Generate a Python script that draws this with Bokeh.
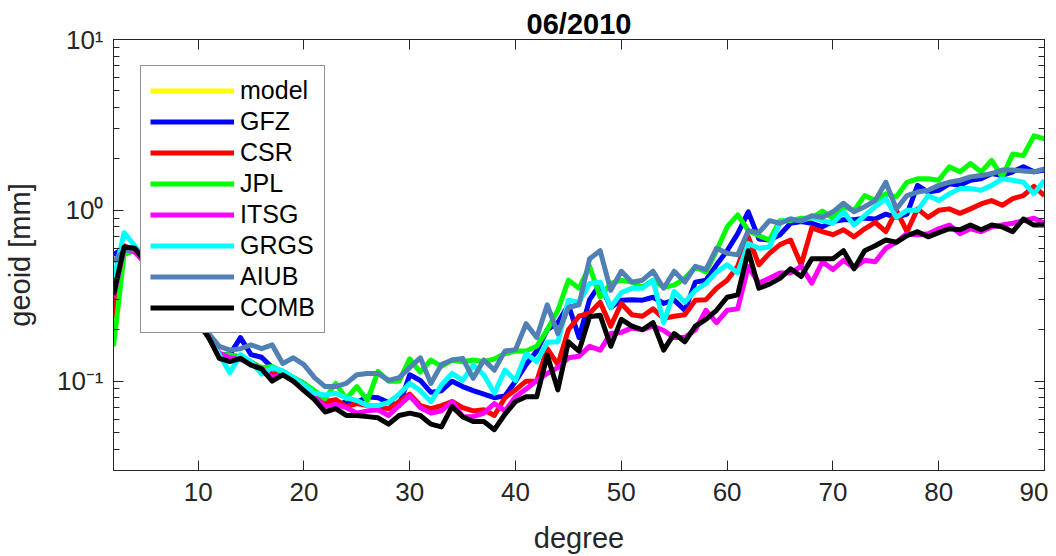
from bokeh.plotting import figure
from bokeh.models import LinearAxis, LogAxis, FixedTicker, LogTicker, Range1d, Legend, LegendItem, ColumnDataSource
from bokeh.embed import file_html
from bokeh.resources import INLINE

degree = list(range(2, 91))

gfz = [0.55, 0.6, 0.58, 0.5, 0.43, 0.37, 0.31, 0.27, 0.22, 0.18,
       0.143, 0.143, 0.18, 0.143, 0.138, 0.12, 0.114, 0.105, 0.097, 0.085,
       0.076, 0.072, 0.076, 0.075, 0.081, 0.08, 0.075, 0.072, 0.109, 0.101,
       0.086, 0.088, 0.1, 0.093, 0.088, 0.084, 0.08, 0.082, 0.1, 0.125,
       0.15, 0.2, 0.22, 0.28, 0.18, 0.3, 0.37, 0.27, 0.298, 0.3,
       0.298, 0.31, 0.285, 0.298, 0.26, 0.38, 0.39, 0.48, 0.58, 0.73,
       0.98, 0.68, 0.67, 0.72, 0.84, 0.86, 0.84, 0.8, 0.86, 0.88,
       0.88, 0.9, 0.89, 0.95, 0.91, 0.95, 1.4, 1.28, 1.31, 1.43,
       1.4, 1.5, 1.53, 1.64, 1.6, 1.68, 1.8, 1.68, 1.72]

csr = [0.235, 0.62, 0.58, 0.5, 0.42, 0.36, 0.3, 0.26, 0.22, 0.18,
       0.143, 0.14, 0.14, 0.13, 0.118, 0.11, 0.112, 0.1, 0.093, 0.083,
       0.076, 0.078, 0.071, 0.074, 0.072, 0.071, 0.069, 0.076, 0.084, 0.072,
       0.069, 0.072, 0.076, 0.07, 0.067, 0.068, 0.063, 0.08, 0.089, 0.1,
       0.1, 0.155, 0.125, 0.2, 0.24, 0.25, 0.29, 0.21, 0.285, 0.245,
       0.24, 0.265, 0.233, 0.24, 0.245, 0.298, 0.3, 0.35, 0.39, 0.47,
       0.7, 0.48, 0.56, 0.63, 0.67, 0.48, 0.79, 0.75, 0.72, 0.77,
       0.7, 0.78, 0.85, 0.75, 1.0, 0.75, 1.02, 0.91, 1.0, 1.02,
       0.96, 1.02, 1.09, 1.14, 1.07, 1.17, 1.22, 1.38, 1.22]

jpl = [0.16, 0.55, 0.58, 0.5, 0.43, 0.37, 0.31, 0.26, 0.22, 0.18,
       0.143, 0.143, 0.138, 0.129, 0.12, 0.122, 0.112, 0.105, 0.097, 0.088,
       0.079, 0.097, 0.079, 0.093, 0.077, 0.114, 0.1, 0.1, 0.135, 0.113,
       0.133, 0.122, 0.133, 0.13, 0.133, 0.13, 0.135, 0.145, 0.15, 0.15,
       0.16, 0.2, 0.26, 0.39, 0.35, 0.47, 0.31, 0.373, 0.39, 0.38,
       0.355, 0.39, 0.355, 0.365, 0.4, 0.466, 0.435, 0.58, 0.8, 0.94,
       0.76, 0.71, 0.67, 0.87, 0.87, 0.9, 0.9, 0.99, 0.9, 1.05,
       1.0, 1.22, 1.14, 1.25, 1.2, 1.46, 1.53, 1.53, 1.5, 1.8,
       1.68, 1.88, 1.68, 1.96, 1.57, 2.14, 2.09, 2.73, 2.62]

itsg = [0.31, 0.6, 0.57, 0.49, 0.42, 0.36, 0.3, 0.26, 0.22, 0.18,
        0.146, 0.137, 0.134, 0.127, 0.118, 0.105, 0.11, 0.1, 0.09, 0.081,
        0.071, 0.073, 0.07, 0.065, 0.067, 0.068, 0.063, 0.072, 0.082, 0.07,
        0.065, 0.067, 0.076, 0.062, 0.062, 0.065, 0.074, 0.067, 0.081, 0.09,
        0.101, 0.111, 0.12, 0.137, 0.14, 0.16, 0.152, 0.19, 0.193, 0.205,
        0.2, 0.21, 0.198, 0.18, 0.18, 0.2, 0.26, 0.22, 0.26, 0.265,
        0.47, 0.375, 0.4, 0.43, 0.43, 0.47, 0.375, 0.5, 0.45, 0.51,
        0.46, 0.51, 0.5, 0.6, 0.65, 0.73, 0.72, 0.73, 0.78, 0.82,
        0.73, 0.78, 0.75, 0.8, 0.82, 0.84, 0.87, 0.9, 0.84]

grgs = [0.39, 0.74, 0.62, 0.52, 0.44, 0.37, 0.31, 0.26, 0.22, 0.18,
        0.143, 0.112, 0.143, 0.13, 0.11, 0.12, 0.115, 0.105, 0.095, 0.085,
        0.083, 0.085, 0.08, 0.077, 0.072, 0.072, 0.075, 0.084, 0.097, 0.088,
        0.076, 0.095, 0.111, 0.101, 0.124, 0.109, 0.085, 0.116, 0.101, 0.145,
        0.13, 0.169, 0.17, 0.298, 0.29, 0.373, 0.38, 0.27, 0.33, 0.35,
        0.35, 0.39, 0.22, 0.335, 0.29, 0.34, 0.373, 0.435, 0.48, 0.43,
        0.64, 0.6, 0.61, 0.85, 0.89, 0.87, 0.91, 0.87, 0.84, 0.98,
        0.82, 0.93, 1.05, 1.17, 0.91, 1.0, 1.0, 1.22, 1.14, 1.25,
        1.34, 1.34, 1.31, 1.4, 1.53, 1.5, 1.46, 1.25, 1.5]

aiub = [0.5, 0.58, 0.6, 0.52, 0.44, 0.38, 0.32, 0.27, 0.23, 0.19,
        0.16, 0.152, 0.155, 0.163, 0.155, 0.163, 0.127, 0.137, 0.125, 0.105,
        0.093, 0.093, 0.097, 0.109, 0.111, 0.111, 0.101, 0.105, 0.12, 0.137,
        0.097, 0.125, 0.133, 0.136, 0.104, 0.133, 0.116, 0.15, 0.153, 0.217,
        0.18, 0.28, 0.19, 0.27, 0.28, 0.52, 0.58, 0.34, 0.44, 0.38,
        0.39, 0.44, 0.35, 0.44, 0.38, 0.47, 0.45, 0.6, 0.56, 0.55,
        0.76, 0.74, 0.87, 0.84, 0.89, 0.87, 0.93, 0.91, 0.98, 1.1,
        0.98, 1.05, 1.14, 1.46, 1.02, 1.22, 1.28, 1.31, 1.4, 1.46,
        1.5, 1.57, 1.6, 1.64, 1.72, 1.72, 1.7, 1.68, 1.75]

comb = [0.32, 0.61, 0.6, 0.5, 0.42, 0.36, 0.3, 0.26, 0.22, 0.18,
        0.136, 0.13, 0.136, 0.124, 0.118, 0.1, 0.109, 0.1, 0.088, 0.078,
        0.066, 0.069, 0.063, 0.063, 0.062, 0.061, 0.056, 0.063, 0.065, 0.063,
        0.056, 0.054, 0.071, 0.062, 0.058, 0.058, 0.052, 0.064, 0.076, 0.081,
        0.081, 0.142, 0.089, 0.17, 0.15, 0.238, 0.243, 0.16, 0.23, 0.21,
        0.2, 0.22, 0.152, 0.19, 0.17, 0.21, 0.23, 0.26, 0.31, 0.32,
        0.58, 0.35, 0.37, 0.4, 0.455, 0.41, 0.52, 0.52, 0.52, 0.58,
        0.455, 0.58, 0.62, 0.67, 0.65, 0.71, 0.75, 0.7, 0.74, 0.78,
        0.77, 0.82, 0.77, 0.82, 0.8, 0.75, 0.89, 0.82, 0.82]

# "model" is not visible in the picture (only its legend entry shows)
model_deg = [2]
model = [float("nan")]

names = ["model", "GFZ", "CSR", "JPL", "ITSG", "GRGS", "AIUB", "COMB"]
colors = ["#FFFF00", "#0000FF", "#FF0000", "#00FF00", "#FF00FF", "#00FFFF", "#5080B4", "#000000"]
x_ticks = [10, 20, 30, 40, 50, 60, 70, 80, 90]
y_tick_labels = {0.1: "10\u207b\u00b9", 1: "10\u2070", 10: "10\u00b9"}

FONT = "Liberation Sans"
AX = "#262626"

p = figure(frame_width=931, frame_height=431, y_axis_type="log",
           x_range=Range1d(2, 90), y_range=Range1d(0.03, 10),
           output_backend="svg", toolbar_location=None,
           min_border_left=112, min_border_right=4, min_border_top=39, min_border_bottom=70)

p.title.text = "06/2010"
p.title.align = "center"
p.title.text_font = FONT
p.title.text_font_size = "29px"
p.title.text_font_style = "bold"
p.title.text_color = "#000000"
p.title.standoff = 0

p.xgrid.visible = False
p.ygrid.visible = False
p.outline_line_color = AX
p.outline_line_width = 1
p.background_fill_color = "white"
p.border_fill_color = "white"

xa = p.xaxis[0]
xa.ticker = FixedTicker(ticks=x_ticks)
xa.axis_label = "degree"
ya = p.yaxis[0]
ya.ticker = LogTicker(num_minor_ticks=10)
ya.major_label_overrides = y_tick_labels
ya.axis_label = "geoid [mm]"

for ax in (xa, ya):
    ax.axis_line_color = AX
    ax.major_tick_line_color = AX
    ax.minor_tick_line_color = AX
    ax.major_tick_in = 10
    ax.major_tick_out = 0
    ax.minor_tick_in = 6
    ax.minor_tick_out = 0
    ax.major_label_text_font = FONT
    ax.major_label_text_font_size = "26px"
    ax.major_label_text_color = AX
    ax.axis_label_text_font = FONT
    ax.axis_label_text_font_size = "29px"
    ax.axis_label_text_color = AX
    ax.axis_label_text_font_style = "normal"
xa.minor_tick_line_color = None
xa.major_label_standoff = 12
xa.axis_label_standoff = 18
ya.major_label_standoff = 10
ya.axis_label_standoff = 18

top = LinearAxis(ticker=FixedTicker(ticks=x_ticks))
right = LogAxis(ticker=LogTicker(num_minor_ticks=10))
for ax in (top, right):
    ax.axis_line_color = AX
    ax.major_tick_line_color = AX
    ax.minor_tick_line_color = AX
    ax.major_tick_in = 10
    ax.major_tick_out = 0
    ax.minor_tick_in = 6
    ax.minor_tick_out = 0
    ax.major_label_text_font_size = "1px"
    ax.major_label_text_alpha = 0
    ax.major_label_standoff = 0
top.minor_tick_line_color = None
p.add_layout(top, "above")
p.add_layout(right, "right")

series = [(model_deg, model), (degree, gfz), (degree, csr), (degree, jpl),
          (degree, itsg), (degree, grgs), (degree, aiub), (degree, comb)]
items = []
for name, col, (xs, ys) in zip(names, colors, series):
    src = ColumnDataSource(data=dict(x=xs, y=ys))
    r = p.line("x", "y", source=src, line_color=col, line_width=5, line_join="round")
    items.append(LegendItem(label=name, renderers=[r]))

legend = Legend(items=items, location=(27, 137))
legend.label_text_font = FONT
legend.label_text_font_size = "25px"
legend.label_text_color = "#000000"
legend.glyph_width = 84
legend.glyph_height = 31
legend.label_height = 31
legend.label_width = 75
legend.label_standoff = 6
legend.spacing = 0
legend.padding = 9
legend.margin = 0
legend.border_line_color = AX
legend.border_line_width = 1
legend.background_fill_color = "white"
legend.background_fill_alpha = 1
p.add_layout(legend, "center")

open("out.html", "w").write(file_html(p, INLINE))
